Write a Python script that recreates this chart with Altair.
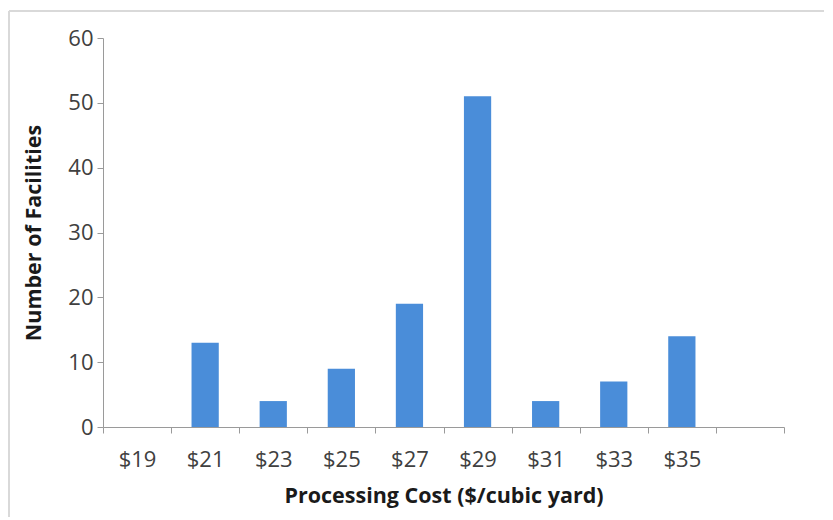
import altair as alt
import pandas as pd

categories = ["$19", "$21", "$23", "$25", "$27", "$29", "$31", "$33", "$35", " "]
facilities = [0, 13, 4, 9, 19, 51, 4, 7, 14, None]
y_ticks = [0, 10, 20, 30, 40, 50, 60]

df = pd.DataFrame({"cost": categories, "count": facilities})

FONT = "Open Sans"

bars = alt.Chart(df).mark_bar(color="#4A8DD9", width=alt.RelativeBandSize(0.4)).encode(
    x=alt.X(
        "cost:N",
        sort=categories,
        scale=alt.Scale(domain=categories, paddingInner=0, paddingOuter=0),
        axis=alt.Axis(
            title="Processing Cost ($/cubic yard)",
            labelAngle=0,
            tickBand="extent",
            labelPadding=16,
            titlePadding=15,
            labelFontSize=22,
            titleFontSize=21.5,
            titleFontWeight="bold",
            labelColor="#404040",
            titleColor="#1a1a1a",
            domainColor="#9a9a9a",
            tickColor="#9a9a9a",
            tickSize=6,
            labelFont=FONT,
            titleFont=FONT,
        ),
    ),
    y=alt.Y(
        "count:Q",
        scale=alt.Scale(domain=[0, 60], nice=False),
        axis=alt.Axis(
            title="Number of Facilities",
            values=y_ticks,
            grid=False,
            labelPadding=4,
            titlePadding=22,
            labelFontSize=22,
            titleFontSize=21.5,
            titleFontWeight="bold",
            labelColor="#404040",
            titleColor="#1a1a1a",
            domainColor="#9a9a9a",
            tickColor="#9a9a9a",
            tickSize=6,
            labelFont=FONT,
            titleFont=FONT,
        ),
    ),
)

frame_df = pd.DataFrame({"k": [0]})
frame_top = alt.Chart(frame_df).mark_rule(color="#d9d9d9", strokeWidth=2).encode(
    x=alt.value(-94), x2=alt.value(740), y=alt.value(-27)
)
frame_left = alt.Chart(frame_df).mark_rule(color="#d9d9d9", strokeWidth=2).encode(
    x=alt.value(-94), y=alt.value(-27), y2=alt.value(490)
)

chart = (
    alt.layer(frame_top, frame_left, bars)
    .properties(
        width=681,
        height=389,
        autosize=alt.AutoSizeParams(type="none"),
        padding={"left": 95, "top": 30, "right": 40, "bottom": 90},
        view=alt.ViewBackground(stroke="transparent", strokeWidth=0, strokeOpacity=0),
    )
    .configure_view(strokeWidth=0, stroke="transparent", strokeOpacity=0)
    .configure(background="white")
)

chart.save("out.html", embed_options={"renderer": "svg", "actions": False})
